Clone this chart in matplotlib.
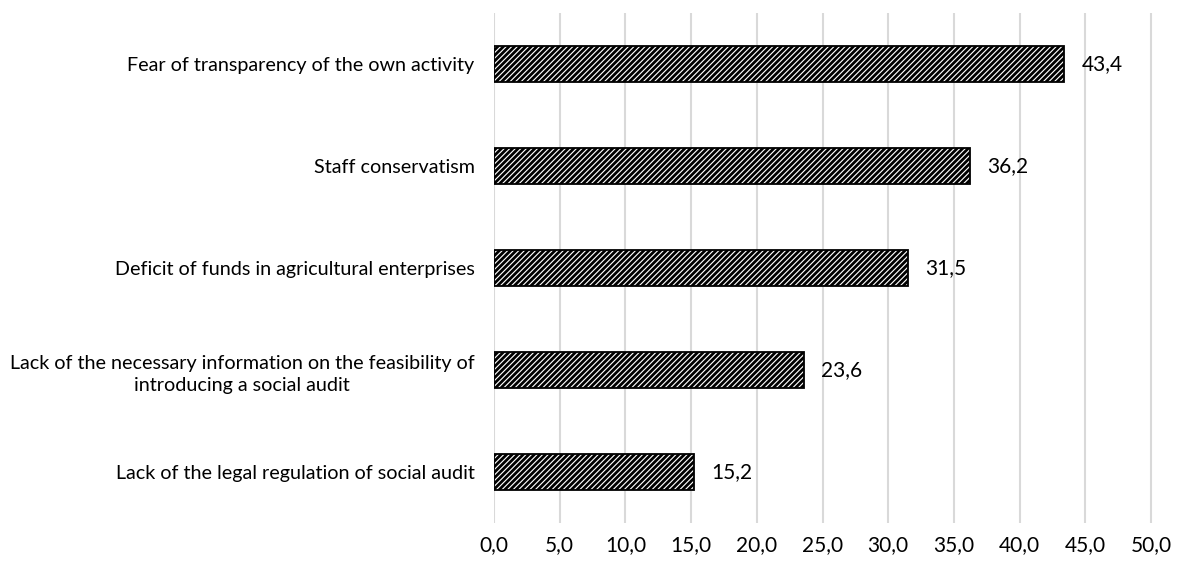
import numpy as np
import matplotlib.pyplot as plt

plt.rcParams['font.family'] = ['Lato', 'DejaVu Sans']
plt.rcParams['hatch.linewidth'] = 2.0

categories = [
    "Lack of the legal regulation of social audit",
    "Lack of the necessary information on the feasibility of\nintroducing a social audit",
    "Deficit of funds in agricultural enterprises",
    "Staff conservatism",
    "Fear of transparency of the own activity",
]
values = [15.2, 23.6, 31.5, 36.2, 43.4]
xticks = np.arange(0, 50.1, 5)

fig = plt.figure(figsize=(11.77, 5.65), dpi=100)
# axes from x=494 to 50 at x=1151, y from 13 to 523 px
ax = fig.add_axes([494 / 1177, 1 - 523 / 565, (1151 - 494) * 51 / 50 / 1177, 510 / 565])

y = np.arange(len(categories))
ax.barh(y, values, height=0.36, color="white", edgecolor="black",
        linewidth=1.3, hatch="//////", zorder=3)

for yi, v in zip(y, values):
    ax.text(v + 1.3, yi, f"{v:.1f}".replace(".", ","), va="center", ha="left",
            fontsize=15)

ax.set_xlim(0, 51)
ax.set_ylim(-0.5, len(categories) - 0.5)
ax.set_xticks(xticks)
ax.set_xticklabels([f"{t:.1f}".replace(".", ",") for t in xticks], fontsize=15)
ax.set_yticks(y)
ax.set_yticklabels(categories, fontsize=14.2, multialignment="center",
                   linespacing=1.4)
ax.tick_params(length=0, axis="both")
ax.tick_params(axis="x", pad=9)
ax.tick_params(axis="y", pad=14)
ax.grid(axis="x", color="#d9d9d9", linewidth=1.5, zorder=0)
for s in ax.spines.values():
    s.set_visible(False)

plt.savefig("out.png", dpi=100)
